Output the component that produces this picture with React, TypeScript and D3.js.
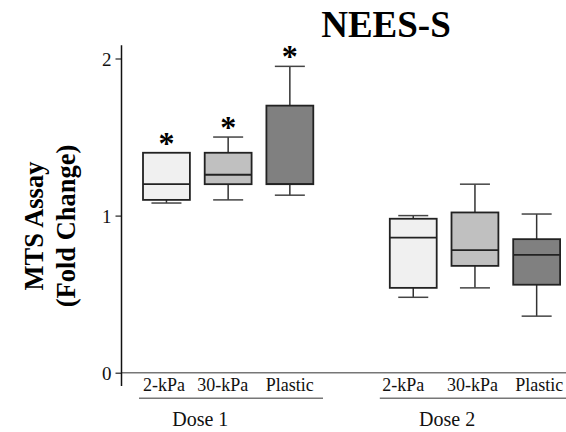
import React, { useEffect, useRef } from "react";
import * as d3 from "d3";

// box plot values (fold change)
const categories = ["2-kPa", "30-kPa", "Plastic"];
const doses = ["Dose 1", "Dose 2"];
const whiskerLow = [1.08, 1.1, 1.13, 0.48, 0.54, 0.36];
const q1 = [1.1, 1.2, 1.2, 0.54, 0.68, 0.56];
const median = [1.2, 1.26, 1.2, 0.86, 0.78, 0.75];
const q3 = [1.4, 1.4, 1.7, 0.98, 1.02, 0.85];
const whiskerHigh = [1.4, 1.5, 1.95, 1.0, 1.2, 1.01];
const significant = [true, true, true, false, false, false];
const yTicks = [0, 1, 2];
const fills = ["#f0f0f0", "#c0c0c0", "#808080"];
// small nudges of the category labels, as in the original figure
const labelShift = [-2.5, -5.5, 0, -10, -2.5, 2.5];

const FONT = "'Liberation Serif', 'Times New Roman', serif";

export default function App() {
  const ref = useRef<SVGSVGElement>(null);

  useEffect(() => {
    const svg = d3.select(ref.current);
    svg.selectAll("*").remove();

    // slots: 3 boxes, an empty gap, 3 boxes
    const slots = ["d1-0", "d1-1", "d1-2", "gap", "d2-0", "d2-1", "d2-2"];
    const boxSlots = slots.filter((s) => s !== "gap");

    const x = d3
      .scaleBand()
      .domain(slots)
      .range([135.6, 567.5])
      .paddingInner(0.24)
      .paddingOuter(0.12);
    const y = d3.scaleLinear().domain([0, 2]).range([372.7, 58.5]);

    const bw = x.bandwidth();
    const cap = bw * 0.64;

    // zero baseline
    svg
      .append("line")
      .attr("x1", 121.5)
      .attr("x2", 566)
      .attr("y1", y(0))
      .attr("y2", y(0))
      .attr("stroke", "#777")
      .attr("stroke-width", 1.5);

    // y axis
    const yAxis = svg
      .append("g")
      .attr("transform", "translate(121.5,0)")
      .call(d3.axisLeft(y).tickValues(yTicks).tickSize(6).tickPadding(4).tickFormat(d3.format("d")));
    yAxis.select(".domain").remove();
    yAxis.attr("font-family", FONT);
    yAxis.selectAll(".tick line").attr("stroke", "#222").attr("stroke-width", 1.2);
    yAxis
      .selectAll(".tick text")
      .attr("font-family", FONT)
      .attr("font-size", 19)
      .attr("fill", "#111")
      .attr("dy", "0.35em");
    svg
      .append("line")
      .attr("x1", 121.5)
      .attr("x2", 121.5)
      .attr("y1", y(2.085))
      .attr("y2", y(-0.085))
      .attr("stroke", "#111")
      .attr("stroke-width", 1.5);

    // boxes
    const g = svg
      .selectAll("g.box")
      .data(boxSlots)
      .enter()
      .append("g")
      .attr("class", "box");

    g.each(function (s, i) {
      const el = d3.select(this);
      const cx = (x(s) as number) + bw / 2;
      const left = x(s) as number;

      // whiskers
      el.append("line")
        .attr("x1", cx).attr("x2", cx)
        .attr("y1", y(whiskerHigh[i])).attr("y2", y(q3[i]))
        .attr("stroke", "#333").attr("stroke-width", 1.5);
      el.append("line")
        .attr("x1", cx).attr("x2", cx)
        .attr("y1", y(q1[i])).attr("y2", y(whiskerLow[i]))
        .attr("stroke", "#333").attr("stroke-width", 1.5);
      [whiskerHigh[i], whiskerLow[i]].forEach((v) => {
        el.append("line")
          .attr("x1", cx - cap / 2).attr("x2", cx + cap / 2)
          .attr("y1", y(v)).attr("y2", y(v))
          .attr("stroke", "#444").attr("stroke-width", 1.5);
      });

      el.append("rect")
        .attr("x", left)
        .attr("y", y(q3[i]))
        .attr("width", bw)
        .attr("height", y(q1[i]) - y(q3[i]))
        .attr("fill", fills[i % 3])
        .attr("stroke", "#222")
        .attr("stroke-width", 1.8);

      el.append("line")
        .attr("x1", left).attr("x2", left + bw)
        .attr("y1", y(median[i])).attr("y2", y(median[i]))
        .attr("stroke", "#222").attr("stroke-width", 1.8);

      if (significant[i]) {
        el.append("text")
          .attr("x", cx)
          .attr("y", y(whiskerHigh[i]) + 1)
          .attr("text-anchor", "middle")
          .attr("font-family", FONT)
          .attr("font-weight", "bold")
          .attr("font-size", 32)
          .text("*");
      }

      // category label
      el.append("text")
        .attr("x", cx + labelShift[i])
        .attr("y", 390.7)
        .attr("text-anchor", "middle")
        .attr("font-family", FONT)
        .attr("font-size", 18)
        .attr("fill", "#111")
        .text(categories[i % 3]);
    });

    // dose brackets and labels
    const groups = [
      { slots: boxSlots.slice(0, 3), pad: 4, end: 323 },
      { slots: boxSlots.slice(3, 6), pad: 10, end: 566 },
    ];
    groups.forEach((grp, k) => {
      const start = (x(grp.slots[0]) as number) - grp.pad;
      svg
        .append("line")
        .attr("x1", start)
        .attr("x2", grp.end)
        .attr("y1", 398.3)
        .attr("y2", 398.3)
        .attr("stroke", "#777")
        .attr("stroke-width", 1.5);
      const mid =
        ((x(grp.slots[0]) as number) + (x(grp.slots[1]) as number)) / 2 + bw / 2 + 3;
      svg
        .append("text")
        .attr("x", mid)
        .attr("y", 426)
        .attr("text-anchor", "middle")
        .attr("font-family", FONT)
        .attr("font-size", 20)
        .attr("fill", "#111")
        .text(doses[k]);
    });

    // title
    svg
      .append("text")
      .attr("x", 386)
      .attr("y", 36.7)
      .attr("text-anchor", "middle")
      .attr("font-family", FONT)
      .attr("font-weight", "bold")
      .attr("font-size", 37)
      .text("NEES-S");

    // y axis title (two lines)
    const yt = svg
      .append("text")
      .attr("transform", "translate(43,226) rotate(-90)")
      .attr("text-anchor", "middle")
      .attr("font-family", FONT)
      .attr("font-weight", "bold")
      .attr("font-size", 26.5);
    yt.append("tspan").attr("x", 0).attr("y", 0).text("MTS Assay");
    yt.append("tspan").attr("x", 0).attr("y", 32).text("(Fold Change)");
  }, []);

  return (
    <svg
      ref={ref}
      width={566}
      height={432}
      style={{ position: "absolute", left: 0, top: 0, background: "#fff" }}
    />
  );
}
